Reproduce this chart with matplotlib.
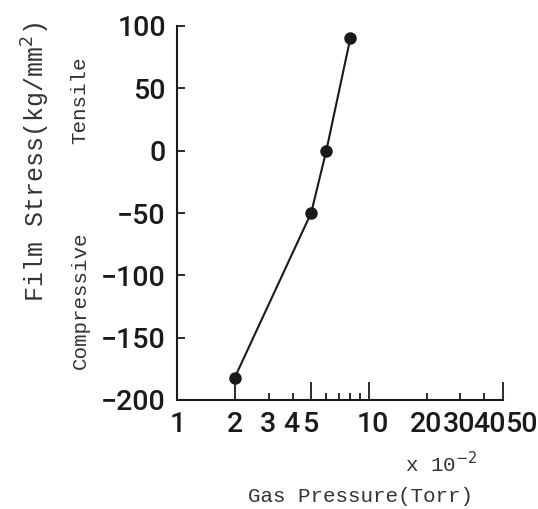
import matplotlib
matplotlib.use('Agg')
import matplotlib.pyplot as plt
import matplotlib.transforms as mtransforms
from matplotlib.ticker import FixedLocator

# film stress vs gas pressure (pressure in units of 1e-2 Torr)
pressure = [2, 5, 6, 8]
stress = [-182, -50, 0, 90]

major_x = [2, 5, 10, 50]
minor_x = [1, 3, 4, 6, 7, 8, 9, 20, 30, 40]
minor_x_labels = ['1', '3', '4', '', '', '', '', '20', '30', '40']
y_ticks = [-200, -150, -100, -50, 0, 50, 100]

# the original labels are hand placed; shift (in pixels) per label
label_shift = {'1': 1, '3': -1, '4': -1, '5': -1, '10': 4,
               '20': -1, '30': -1, '40': 5, '50': 18}

mono = 'Liberation Mono'
tick_font = 'Roboto'
ink = '#1a1a1a'

fig = plt.figure(figsize=(5.38, 5.09), dpi=100)
ax = fig.add_axes([177 / 538, 1 - 400 / 509, 326 / 538, 374 / 509])

ax.plot(pressure, stress, '-', color=ink, lw=1.5,
        marker='o', markersize=8, clip_on=False)

ax.set_xscale('log')
ax.set_xlim(1, 50)
ax.set_ylim(-200, 100)

ax.xaxis.set_major_locator(FixedLocator(major_x))
ax.set_xticklabels([str(v) for v in major_x])
ax.set_xticks(minor_x, minor_x_labels, minor=True)
ax.set_yticks(y_ticks)

for s in ['top', 'right']:
    ax.spines[s].set_visible(False)
for s in ['left', 'bottom']:
    ax.spines[s].set_linewidth(1.5)
    ax.spines[s].set_color(ink)

ax.tick_params(axis='x', which='major', direction='in', length=13, width=1.3,
               pad=8, labelsize=20.5, colors=ink)
ax.tick_params(axis='x', which='minor', direction='in', length=5, width=1.3,
               pad=8, labelsize=20.5, colors=ink)
ax.tick_params(axis='y', which='major', direction='in', length=6, width=1.3,
               pad=8, labelsize=20.5, colors=ink)

for lab in ax.get_xticklabels(which='both') + ax.get_yticklabels():
    lab.set_family(tick_font)
    lab.set_weight('medium')
for lab in ax.get_xticklabels(which='both'):
    dx = label_shift.get(lab.get_text(), 0)
    if dx:
        off = mtransforms.ScaledTranslation(dx / 100, 0, fig.dpi_scale_trans)
        lab.set_transform(lab.get_transform() + off)

fig.text(36 / 538, 1 - 162 / 509, 'Film Stress(kg/mm$^2$)', rotation=90,
         ha='center', va='center', family=mono, fontsize=18, color='#333333')
fig.text(80 / 538, 1 - 100 / 509, 'Tensile', rotation=90,
         ha='center', va='center', family=mono, fontsize=15, color='#333333')
fig.text(80 / 538, 1 - 300 / 509, 'Compressive', rotation=90,
         ha='center', va='center', family=mono, fontsize=15, color='#333333')
fig.text(405 / 538, 1 - 464 / 509, 'x 10$^{-2}$',
         ha='left', va='center', family=mono, fontsize=15, color='#333333')
fig.text(361 / 538, 1 - 497 / 509, 'Gas Pressure(Torr)',
         ha='center', va='center', family=mono, fontsize=15, color='#333333')

plt.savefig('out.png', dpi=100)
